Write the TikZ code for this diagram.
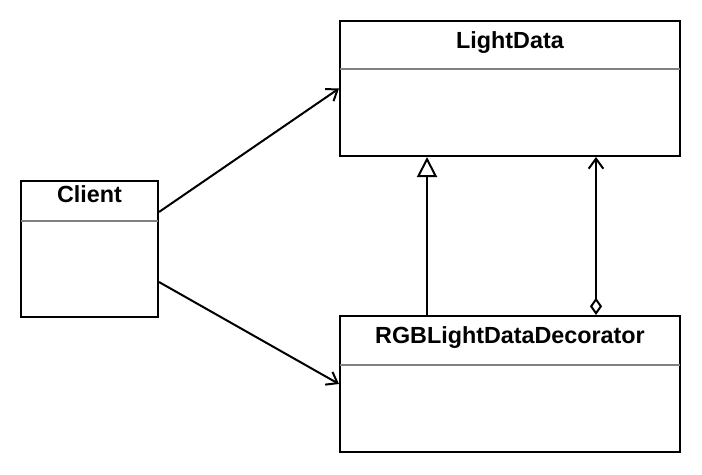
\documentclass[tikz,border=0pt]{standalone}
\usepackage{fontspec}
\setmainfont{Liberation Sans}
\usetikzlibrary{arrows.meta,calc,positioning}

\begin{document}
\begin{tikzpicture}[x=0.75pt, y=-0.75pt, line width=1.5pt,
	cls/.style={draw, rectangle, inner sep=0pt, minimum width=255pt, minimum height=102pt},
	title/.style={font=\fontsize{17.5}{20}\selectfont\bfseries, inner sep=0pt},
	sep/.style={draw=gray, line width=1.5pt},
	uses/.style={-{Straight Barb[length=7.5pt, width=11pt, line width=1.5pt]}},
	inherit/.style={-{Triangle[open, length=10pt, width=10pt, fill=white, line width=1.5pt, scale=1.5]}},
	aggr/.style={{Diamond[open, length=10pt, width=7pt, fill=white, line width=1.5pt, scale=1.3]}-{Straight Barb[length=7.5pt, width=11pt, line width=1.5pt]}}]
			\useasboundingbox (0,0) rectangle (702,474);

			% classes
			\node[cls, minimum height=101.25pt] (light) at (510,88.5) {};
			\node[cls, minimum width=102.75pt] (client) at (89.5,249) {};
			\node[cls] (rgb) at (510,384) {};

			\node[title] (lightName) at ($(light.north)+(0,23)$) {LightData};
			\node[title] (clientName) at ($(client.north)+(0,14)$) {Client};
			\node[title] (rgbName) at ($(rgb.north)+(0,23)$) {RGBLightDataDecorator};

			\draw[sep] ($(light.north west)+(1,49)$) -- ($(light.north east)+(-1,49)$);
			\draw[sep] ($(client.north west)+(1,41)$) -- ($(client.north east)+(-1,41)$);
			\draw[sep] ($(rgb.north west)+(1,50)$) -- ($(rgb.north east)+(-1,50)$);

			% connectors
			\coordinate (clientUp) at ($(client.north east)+(0,32)$);
			\coordinate (clientDown) at ($(client.north east)+(0,102)$);
			\draw[uses] (clientUp) -- (light.west);
			\draw[uses] (clientDown) -- (rgb.west);

			\coordinate (inhStart) at ($(rgb.north)+(-83,0)$);
			\coordinate (aggStart) at ($(rgb.north)+(86,0)$);
			\draw[inherit] (inhStart) -- (inhStart |- light.south);
			\draw[aggr] (aggStart) -- (aggStart |- light.south);
		\end{tikzpicture}
\end{document}
